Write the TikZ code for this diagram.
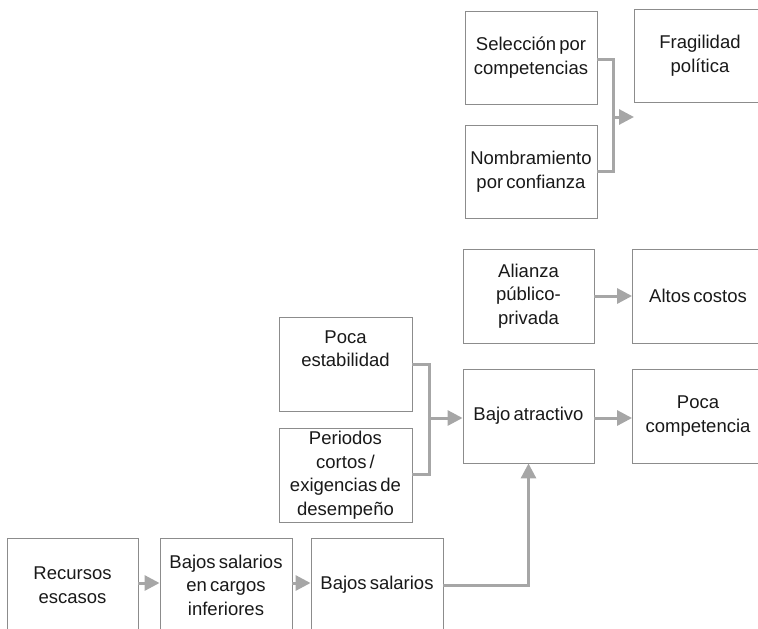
\documentclass[tikz,border=0pt]{standalone}
\usepackage{fontspec}
\setmainfont{Liberation Sans}[WordSpace=0.6]
\usetikzlibrary{arrows.meta}
\definecolor{boxline}{HTML}{8C8C8C}
\definecolor{arrowgray}{HTML}{A6A6A6}
\tikzset{
  box/.style={draw=boxline, line width=0.9pt, fill=white, minimum width=132pt, minimum height=93pt,
    align=center, inner sep=2pt, font=\fontsize{18.5}{23.5}\selectfont, text=black!90},
  conn/.style={draw=arrowgray, line width=3pt},
  arr/.style={conn, -{Triangle[length=15pt,width=15pt]}},
}
\begin{document}
\begin{tikzpicture}[x=1pt,y=-1pt]
\useasboundingbox (0,0) rectangle (758,629);
\clip (0,0) rectangle (758,629);
% top group
\node[box] (sel) at (531,57.5) {Selección por\\competencias};
\node[box] (nom) at (531,171.5) {Nombramiento\\por confianza};
\node[box] (fra) at (700,55.5) {Fragilidad\\política};
% middle
\node[box, minimum width=131pt, minimum height=94pt] (ali) at (528.5,296) {Alianza\\público-\\privada};
\node[box, minimum width=131pt, minimum height=94pt] (alt) at (698,296) {Altos costos};
\node[box, minimum width=133pt, minimum height=94pt] (poc) at (345.5,364) {Poca\\estabilidad\\\strut};
\node[box, minimum width=133pt, minimum height=94pt] (per) at (345.5,475) {Periodos\\cortos /\\exigencias de\\desempeño};
\node[box, minimum width=131pt, minimum height=94pt] (baj) at (528.5,416) {Bajo atractivo};
\node[box, minimum width=131pt, minimum height=94pt] (pcom) at (698,416) {Poca\\competencia};
% bottom
\node[box, minimum width=131pt, minimum height=94pt] (rec) at (72.5,585) {Recursos\\escasos};
\node[box, minimum width=132pt, minimum height=94pt] (bsc) at (226,585) {Bajos salarios\\en cargos\\inferiores};
\node[box, minimum width=132pt, minimum height=94pt] (bsa) at (377,585) {Bajos salarios};
% connectors
\coordinate (j1) at (613,117);
\coordinate (fratip) at (634,117);
\draw[conn] ([yshift=-1.5pt]sel.east) -| (j1) |- ([yshift=0pt]nom.east);
\draw[arr] (j1) -- (fratip);
\draw[arr] (ali.east) -- (alt.west);
\coordinate (j2) at (429,418);
\draw[conn] (poc.east) -| (j2) |- ([yshift=1pt]per.east);
\draw[arr] (j2) -- (baj.west |- j2);
\draw[arr] (baj.east |- j2) -- (pcom.west |- j2);
\draw[arr] ([yshift=2pt]rec.east) -- ([yshift=2pt]bsc.west);
\draw[arr] ([yshift=2pt]bsc.east) -- ([yshift=2pt]bsa.west);
\draw[arr] (bsa.east) -| (baj.south);
\end{tikzpicture}
\end{document}
